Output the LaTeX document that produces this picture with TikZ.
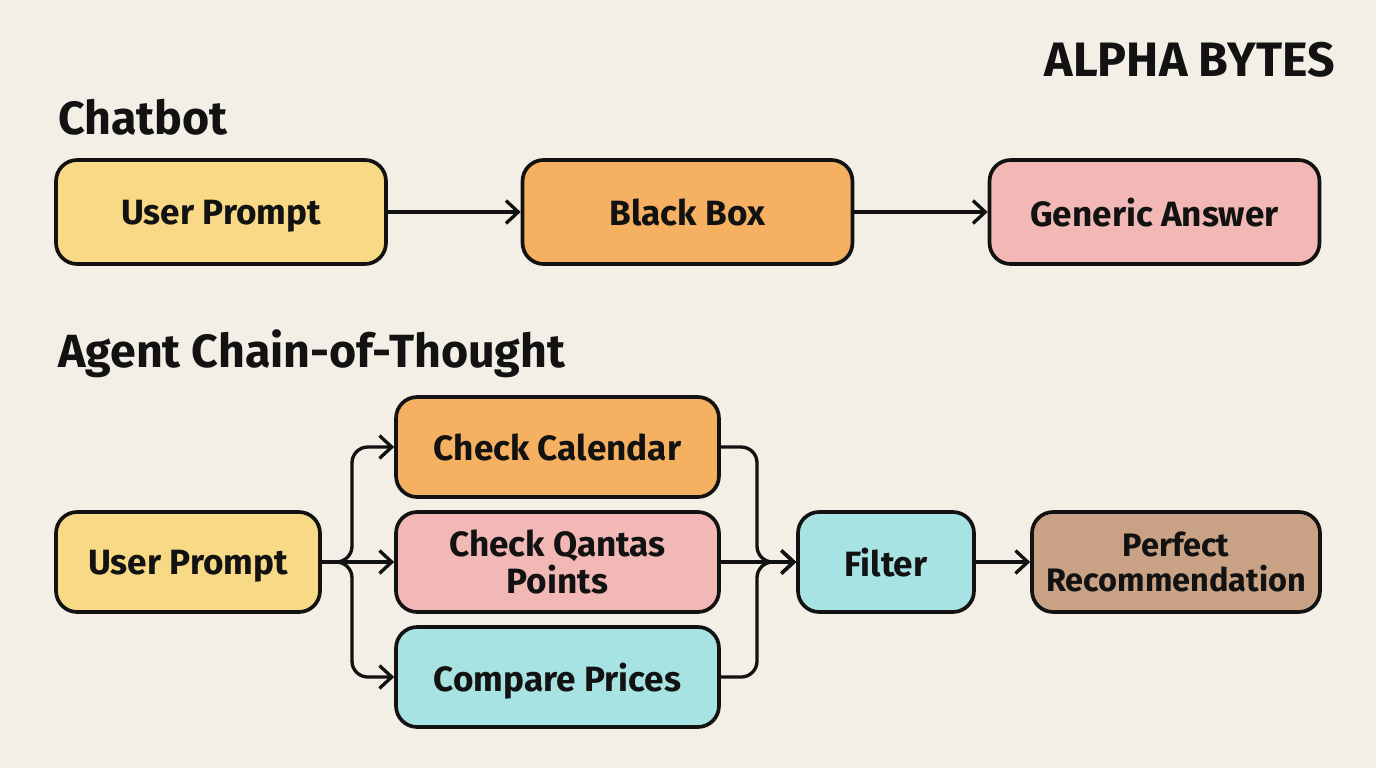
\documentclass[tikz,border=0pt]{standalone}
\usepackage{fontspec}
\setmainfont{Fira Sans}
\usepackage{tikz}
\usetikzlibrary{arrows.meta,positioning}
\definecolor{paper}{HTML}{F3EFE6}
\definecolor{inkcol}{HTML}{121212}
\definecolor{sunyellow}{HTML}{F8D985}
\definecolor{peach}{HTML}{F6B062}
\definecolor{rosepink}{HTML}{F2B8B5}
\definecolor{aqua}{HTML}{A8E3E3}
\definecolor{clay}{HTML}{C9A285}
\tikzset{
	flow box/.style =
    {
			draw = inkcol,
			line width = 2.1pt,
			rounded corners = 12pt,
			align = center,
			text = inkcol,
			text depth = 0pt,
			font = \fontsize{20}{21}\selectfont\bfseries,
			minimum height = 2cm
    }
}

\begin{document}
\begin{tikzpicture}[x=0.02cm,y=-0.02cm]
    \tikzset{flow arrow/.style={draw=inkcol,line width=1.9pt,rounded corners=9pt,-{Straight Barb[length=7pt,width=13pt,line width=1.9pt]}}}
    \tikzset{heading/.style={anchor=west,text=inkcol,font=\fontsize{26.5}{30}\selectfont\bfseries}}
    % Background
    \fill [paper] (0,0) rectangle (1376,768);

    % Headings
    \node (brand) [anchor=east,text=inkcol,font=\fontsize{27.5}{30}\selectfont\bfseries] at (1341,60) {ALPHA BYTES};
    \node (chatbot) [heading] at (52,117) {Chatbot};
    \node (agent) [heading] at (52,354) {Agent Chain-of-Thought};

    % Nodes: chatbot
    \node (prompt) [flow box, fill=sunyellow, minimum width=6.6cm, minimum height=2.08cm] at (221,212) {User Prompt};
    \node (blackbox) [flow box, fill=peach, minimum width=6.6cm, minimum height=2.08cm] at (687.5,212) {Black Box};
    \node (generic) [flow box, fill=rosepink, minimum width=6.6cm, minimum height=2.08cm] at (1154.5,212) {Generic Answer};

    % Nodes: agent
    \node (agent_prompt) [flow box, fill=sunyellow, minimum width=5.28cm] at (188,562) {User Prompt};
    \node (calendar) [flow box, fill=peach, minimum width=6.46cm] at (557.5,447) {Check Calendar};
    \node (qantas) [flow box, fill=rosepink, minimum width=6.46cm] at (557.5,562) {Check Qantas\\Points};
    \node (prices) [flow box, fill=aqua, minimum width=6.46cm] at (557.5,677) {Compare Prices};
    \node (filter) [flow box, fill=aqua, minimum width=3.52cm] at (886,562) {Filter};
    \node (perfect) [flow box, fill=clay, minimum width=5.76cm, inner xsep=2pt, font=\fontsize{18.5}{20}\selectfont\bfseries] at (1176,562) {Perfect\\Recommendation};
    \coordinate (split) at (352,562);
    \coordinate (merge) at (757,562);

    % Arrows
    \draw [flow arrow] (prompt) to (blackbox);
    \draw [flow arrow] (blackbox) to (generic);
    \draw [flow arrow] (agent_prompt.east) -- (split) |- (calendar.west);
    \draw [flow arrow] (agent_prompt.east) -- (qantas.west);
    \draw [flow arrow] (agent_prompt.east) -- (split) |- (prices.west);
    \draw [flow arrow] (calendar.east) -| (merge) -- (filter.west);
    \draw [flow arrow] (qantas.east) -- (filter.west);
    \draw [flow arrow] (prices.east) -| (merge) -- (filter.west);
    \draw [flow arrow] (filter) to (perfect);
\end{tikzpicture}
\end{document}
